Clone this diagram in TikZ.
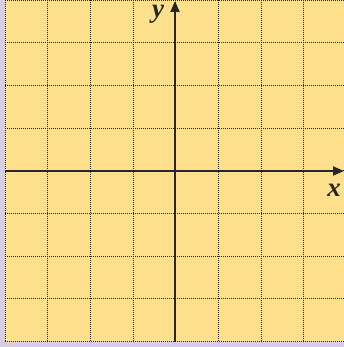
\documentclass[tikz,border=0pt]{standalone}
\usepackage{fontspec}
\setmainfont{Liberation Serif}
\usetikzlibrary{arrows.meta}
\definecolor{bgyellow}{RGB}{255,224,140}
\definecolor{lav}{RGB}{216,206,228}
\definecolor{axiscol}{RGB}{38,38,38}
\tikzset{
  gridline/.style={draw=axiscol, line width=0.9pt, dash pattern=on 0.8pt off 1.2pt},
  axisline/.style={draw=axiscol, line width=1.8pt, -{Triangle[length=11pt,width=9pt]}},
  axislabel/.style={font=\fontsize{27}{27}\selectfont\bfseries\itshape, text=axiscol, inner sep=0pt}
}
\begin{document}
\begin{tikzpicture}[x=1pt,y=-1pt]
\useasboundingbox (0,0) rectangle (344,347);
\fill[lav] (0,0) rectangle (344,347);
\fill[bgyellow] (5,0) rectangle (344,342);
% vertical grid lines
\foreach \i in {0,...,7} {
  \draw[gridline] ({5+42.67*\i},0) -- ({5+42.67*\i},342);
}
% horizontal grid lines
\foreach \j in {0,...,8} {
  \draw[gridline] (5,{42.67*\j}) -- (344,{42.67*\j});
}
\coordinate (xs) at (5,171);
\coordinate (xe) at (344,171);
\coordinate (ys) at (175,342);
\coordinate (ye) at (175,1);
\draw[axisline] (xs) -- (xe);
\draw[axisline] (ys) -- (ye);
\node[axislabel] (ylab) at (158,14) {y};
\node[axislabel] (xlab) at (334,190) {x};
\end{tikzpicture}
\end{document}
